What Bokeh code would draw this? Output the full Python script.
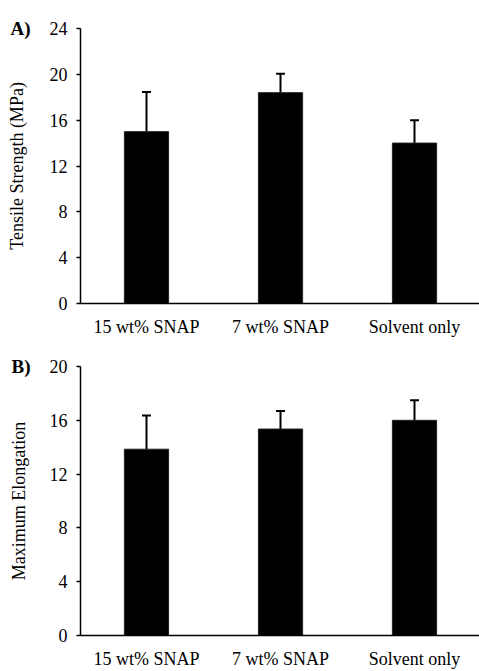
from bokeh.plotting import figure
from bokeh.models import (ColumnDataSource, Range1d, FixedTicker, Whisker, TeeHead, LinearAxis)
from bokeh.layouts import column
from bokeh.embed import file_html
from bokeh.resources import INLINE

categories = ["15 wt% SNAP", "7 wt% SNAP", "Solvent only"]
tensile = [15.0, 18.4, 14.0]
tensile_err = [3.45, 1.65, 2.0]
elongation = [13.85, 15.35, 16.0]
elongation_err = [2.5, 1.35, 1.5]
tensile_ticks = [0, 4, 8, 12, 16, 20, 24]
elong_ticks = [0, 4, 8, 12, 16, 20]

FONT = "Liberation Serif"
FS = "18px"
BORDER_LEFT = 80


def panel(values, errs, ticks, ylabel, tag, height, b_top, b_bottom):
    xs = list(range(len(categories)))
    src = ColumnDataSource(dict(
        x=xs, top=values,
        upper=[v + e for v, e in zip(values, errs)],
        lower=values,
    ))
    p = figure(width=479, height=height, output_backend="svg", toolbar_location=None,
               x_range=Range1d(-0.4925, 2.485), y_range=Range1d(ticks[0], ticks[-1]),
               min_border_left=BORDER_LEFT, min_border_right=0,
               min_border_top=b_top, min_border_bottom=b_bottom)
    p.outline_line_color = None
    p.xgrid.visible = False
    p.ygrid.visible = False
    p.vbar(x="x", top="top", width=0.33, bottom=0, source=src,
           fill_color="black", line_color="#222222", line_width=1)
    w = Whisker(base="x", upper="upper", lower="lower", source=src,
                line_color="black", line_width=2,
                upper_head=TeeHead(size=9, line_width=2, line_color="black"),
                lower_head=None)
    p.add_layout(w)

    ya = p.yaxis[0]
    ya.ticker = FixedTicker(ticks=ticks)
    ya.minor_tick_line_color = None
    ya.major_tick_in = 0
    ya.major_tick_out = 4
    ya.major_tick_line_color = "black"
    ya.major_tick_line_width = 1.5
    ya.axis_line_color = "black"
    ya.axis_line_width = 1.5
    ya.major_label_text_font = FONT
    ya.major_label_text_font_size = FS
    ya.major_label_text_color = "black"
    ya.major_label_standoff = 9

    # outer left axis: carries the panel tag at the top tick and the axis title
    tag_axis = LinearAxis(ticker=FixedTicker(ticks=[ticks[-1]]),
                          major_label_overrides={ticks[-1]: tag})
    tag_axis.axis_line_color = None
    tag_axis.major_tick_line_color = None
    tag_axis.minor_tick_line_color = None
    tag_axis.major_tick_in = 0
    tag_axis.major_tick_out = 0
    tag_axis.major_label_standoff = 16
    tag_axis.major_label_text_font = FONT
    tag_axis.major_label_text_font_size = "19px"
    tag_axis.major_label_text_font_style = "bold"
    tag_axis.major_label_text_color = "black"
    tag_axis.axis_label = ylabel
    tag_axis.axis_label_text_font = FONT
    tag_axis.axis_label_text_font_size = FS
    tag_axis.axis_label_text_font_style = "normal"
    tag_axis.axis_label_text_color = "black"
    tag_axis.axis_label_standoff = -20
    p.add_layout(tag_axis, "left")

    xa = p.xaxis[0]
    xa.ticker = FixedTicker(ticks=xs)
    xa.major_label_overrides = {i: c for i, c in zip(xs, categories)}
    xa.minor_tick_line_color = None
    xa.major_tick_in = 0
    xa.major_tick_out = 0
    xa.axis_line_color = "black"
    xa.axis_line_width = 1.5
    xa.major_label_text_font = FONT
    xa.major_label_text_font_size = FS
    xa.major_label_text_color = "black"
    xa.major_label_standoff = 13
    return p


pA = panel(tensile, tensile_err, tensile_ticks, "Tensile Strength (MPa)", "A)", 340, 28, 37)
pB = panel(elongation, elongation_err, elong_ticks, "Maximum Elongation", "B)", 331, 26, 32)

layout = column(pA, pB, spacing=0)
open("out.html", "w").write(file_html(layout, INLINE))
